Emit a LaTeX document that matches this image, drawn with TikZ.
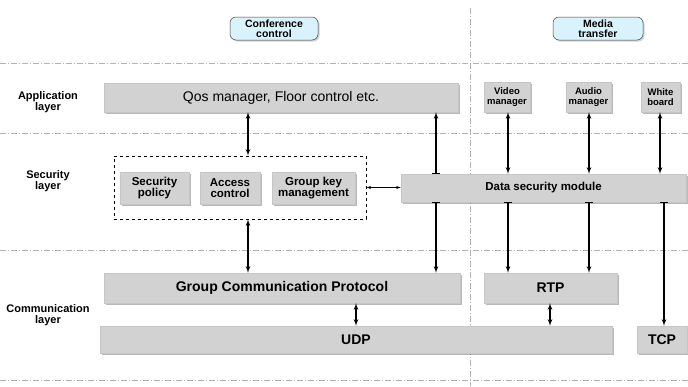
\documentclass[tikz,border=0pt]{standalone}
\usepackage{fontspec}
\setmainfont{Liberation Sans}
\usetikzlibrary{arrows,shadows}
\newcommand{\fsz}[1]{\fontsize{#1}{#1}\selectfont}

\begin{document}
\begin{tikzpicture}[x=1pt, y=-1pt, font=\bfseries\fsz{10},
  >=latex',
  box/.style={rectangle, fill=gray!35, draw=gray!45, line width=0.4pt, align=center,
    inner sep=1pt, drop shadow={shadow xshift=1.8pt, shadow yshift=-2pt, fill=black!55}},
  tag/.style={rectangle, rounded corners=6pt, fill=cyan!15, draw=black!75, line width=0.5pt,
    align=center, inner sep=1pt, drop shadow={shadow xshift=1.5pt, shadow yshift=-1.5pt, fill=gray!70}},
  layer/.style={align=center, font=\bfseries\fsz{11}},
  big/.style={font=\bfseries\fsz{14}},
  sep/.style={draw=gray!60, line width=0.6pt, dash pattern=on 6pt off 2pt on 1pt off 2pt},
  line/.style={draw, line width=1.2pt, <->},
  ]
  \useasboundingbox (0,0) rectangle (688,386);

  % layer separators
  \path[sep] (0,63) -- (688,63);
  \path[sep] (0,133) -- (688,133);
  \path[sep] (0,250) -- (688,250);
  \path[sep] (0,380) -- (688,380);
  \path[sep] (470,8) -- (470,386);

  \node (conf) [tag, minimum width=88pt, minimum height=23pt, font=\bfseries\fsz{10.5}] at (274,28.5) {Conference\\control};
  \node (media) [tag, minimum width=90pt, minimum height=23pt, font=\bfseries\fsz{10.5}] at (598,28.5) {Media\\transfer};

  \node (app layer) [layer] at (48,102) {Application\\layer};
  \node (sec layer) [layer] at (48,181) {Security\\layer};
  \node (com layer) [layer] at (48,315) {Communication\\layer};

  % application layer
  \node (qos) [box, minimum width=354pt, minimum height=29pt, font=\fsz{14}] at (281,97.5) {Qos manager, Floor control etc.};
  \node (video) [box, minimum width=46pt, minimum height=30pt, font=\bfseries\fsz{9.5}] at (507,97) {Video\\manager};
  \node (audio) [box, minimum width=45pt, minimum height=30pt, font=\bfseries\fsz{9.5}] at (588.5,97) {Audio\\manager};
  \node (white) [box, minimum width=39pt, minimum height=30pt, font=\bfseries\fsz{9.5}] at (660.5,97) {White\\board};

  % security layer
  \node (secbox) [draw, dashed, line width=0.6pt, minimum width=252pt, minimum height=63pt] at (240,187.5) {};
  \node (policy) [box, minimum width=69pt, minimum height=32pt, font=\bfseries\fsz{11.5}] at (154.5,188) {Security\\policy};
  \node (access) [box, minimum width=60pt, minimum height=32pt, font=\bfseries\fsz{11.5}] at (230,188) {Access\\control};
  \node (gkm) [box, minimum width=83pt, minimum height=32pt, font=\bfseries\fsz{11.5}] at (313.5,188) {Group key\\management};
  \node (dsm) [box, minimum width=285pt, minimum height=28pt, font=\bfseries\fsz{11.5}] at (543.5,188) {Data security module};

  % communication layer
  \node (gcp) [box, big, minimum width=356pt, minimum height=30pt] at (282,288) {Group Communication Protocol};
  \node (rtp) [box, big, minimum width=133pt, minimum height=30pt] at (550.5,288) {RTP};
  \node (udp) [box, big, minimum width=512pt, minimum height=27pt] at (356,339.5) {UDP};
  \node (tcp) [box, big, minimum width=50pt, minimum height=27pt] at (662,339.5) {TCP};

  \coordinate (xa) at (248,0);
  \coordinate (xb) at (436,0);
  \coordinate (xc) at (508,0);
  \coordinate (xd) at (589,0);
  \coordinate (xe) at (660,0);
  \coordinate (xf) at (664,0);
  \coordinate (xg) at (356,0);
  \coordinate (xh) at (550,0);

  % edges:
  \path[line] (qos.south -| xa) -- (secbox.north -| xa);
  \path[line] (secbox.south -| xa) -- (gcp.north -| xa);
  \path[line, <-|] (qos.south -| xb) -- (dsm.north -| xb);
  \path[line, |->] (dsm.south -| xb) -- (gcp.north -| xb);
  \path[line] (video.south -| xc) -- (dsm.north -| xc);
  \path[line] (audio.south -| xd) -- (dsm.north -| xd);
  \path[line] (white.south -| xe) -- (dsm.north -| xe);
  \path[line, |->] (dsm.south -| xc) -- (rtp.north -| xc);
  \path[line, |->] (dsm.south -| xd) -- (rtp.north -| xd);
  \path[line, |->] (dsm.south -| xf) -- (tcp.north -| xf);
  \path[line] (gcp.south -| xg) -- (udp.north -| xg);
  \path[line] (rtp.south -| xh) -- (udp.north -| xh);
  \path[draw, line width=0.6pt, <->] (secbox.east) -- (secbox.east -| dsm.west);
\end{tikzpicture}
\end{document}
